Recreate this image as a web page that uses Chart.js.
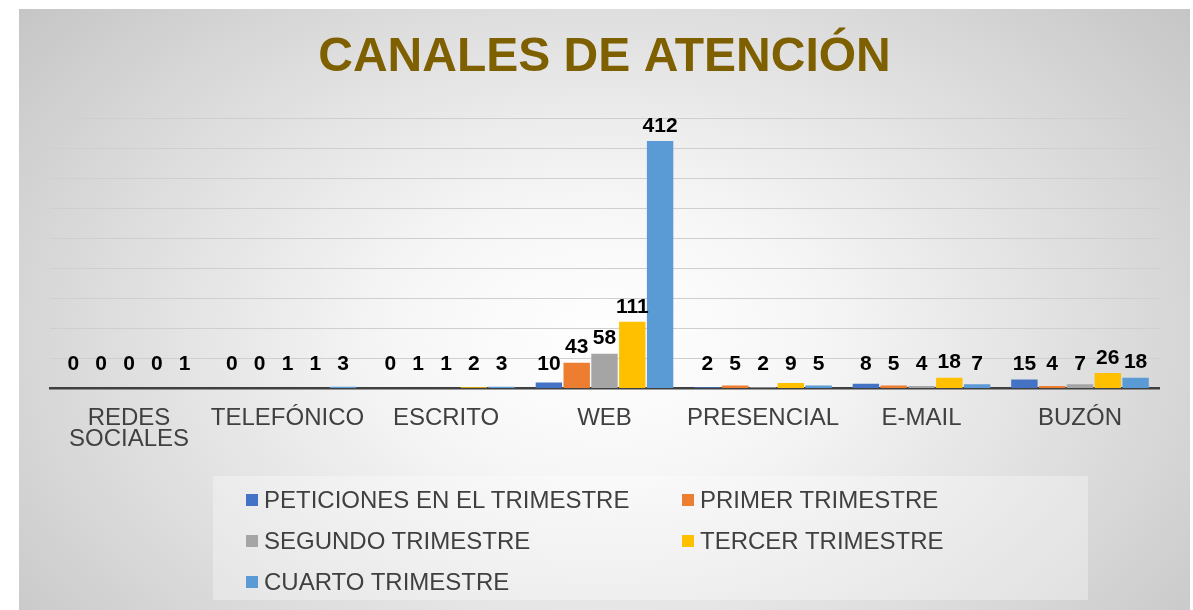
<!DOCTYPE html>
<html lang="es">
<head>
  <meta charset="UTF-8">
  <title>Canales de atención</title>
  <style>
    * { margin: 0; padding: 0; box-sizing: border-box; }
    body {
      width: 1193px;
      height: 610px;
      background: #ffffff;
      overflow: hidden;
      font-family: 'Liberation Sans', Arial, sans-serif;
    }
    .frame {
      position: absolute;
      left: 19px;
      top: 9px;
      width: 1171px;
      height: 601px;
      background: radial-gradient(ellipse 72% 95% at 50% 55%, #ffffff 0%, #f6f6f6 25%, #d9d9d9 65%, #bebebe 100%);
    }
    .frame canvas { position: absolute; left: 0; top: 0; }
    .legend {
      position: absolute;
      left: 194px;
      top: 467px;
      width: 875px;
      height: 124px;
      background: rgba(255, 255, 255, 0.32);
      padding: 3px 0 0 33px;
      display: grid;
      grid-template-columns: 436px 400px;
      grid-auto-rows: 41px;
      align-items: center;
    }
    .legend span.item {
      display: flex;
      align-items: center;
      font-size: 24px;
      color: #404040;
      white-space: nowrap;
    }
    .legend i {
      display: inline-block;
      width: 12px;
      height: 12px;
      margin-right: 6px;
    }
  </style>
</head>
<body>
<div class="frame">
  <canvas id="chart"></canvas>
  <div class="legend" id="legend"></div>
</div>

<script src="https://cdn.jsdelivr.net/npm/chart.js"></script>
<script>
  // categorias y valores
  const canales = [['REDES', 'SOCIALES'], 'TELEFÓNICO', 'ESCRITO', 'WEB', 'PRESENCIAL', 'E-MAIL', 'BUZÓN'];
  const peticiones = [0, 0, 0, 10, 2, 8, 15];
  const primer = [0, 0, 1, 43, 5, 5, 4];
  const segundo = [0, 1, 1, 58, 2, 4, 7];
  const tercer = [0, 1, 2, 111, 9, 18, 26];
  const cuarto = [1, 3, 3, 412, 5, 7, 18];
  const series = ['PETICIONES EN EL TRIMESTRE', 'PRIMER TRIMESTRE', 'SEGUNDO TRIMESTRE', 'TERCER TRIMESTRE', 'CUARTO TRIMESTRE'];
  const colores = ['#4472C4', '#ED7D31', '#A5A5A5', '#FFC000', '#5B9BD5'];
  const valores = [peticiones, primer, segundo, tercer, cuarto];

  // etiquetas de datos encima de cada barra
  const etiquetas = {
    id: 'etiquetas',
    afterDatasetsDraw(chart) {
      const ctx = chart.ctx;
      const base = chart.scales.y.getPixelForValue(0);
      ctx.save();
      ctx.font = 'bold 21px "Liberation Sans", Arial, sans-serif';
      ctx.fillStyle = '#000000';
      ctx.textAlign = 'center';
      ctx.textBaseline = 'middle';
      chart.data.datasets.forEach((ds, i) => {
        chart.getDatasetMeta(i).data.forEach((bar, j) => {
          const y = Math.min(base - 24, bar.y - 15);
          ctx.fillText(String(ds.data[j]), bar.x, y);
        });
      });
      ctx.restore();
    }
  };

  new Chart(document.getElementById('chart'), {
    type: 'bar',
    data: {
      labels: canales,
      datasets: series.map((s, i) => ({
        label: s,
        data: valores[i],
        backgroundColor: colores[i],
        borderWidth: 0,
        categoryPercentage: 0.877,
        barPercentage: 0.95
      }))
    },
    options: {
      responsive: true,
      maintainAspectRatio: false,
      animation: false,
      layout: { padding: { left: 30.75, right: 30.75, top: 0, bottom: 121.5 } },
      plugins: {
        legend: { display: false },
        tooltip: { enabled: false },
        title: {
          display: true,
          text: 'CANALES DE ATENCIÓN',
          color: '#7F6000',
          font: { family: '"Liberation Sans", Arial, sans-serif', size: 48, weight: 'bold' },
          padding: { top: 20, bottom: 31.5 }
        }
      },
      scales: {
        x: {
          grid: { display: false, drawTicks: false },
          border: { display: true, color: '#404040', width: 2.5 },
          ticks: {
            color: '#404040',
            padding: 20,
            maxRotation: 0,
            minRotation: 0,
            autoSkip: false,
            font: { family: '"Liberation Sans", Arial, sans-serif', size: 24, lineHeight: 0.85 }
          },
          afterFit(axis) { axis.height = 100; }
        },
        y: {
          min: 0,
          max: 450,
          ticks: { display: false, stepSize: 50 },
          grid: { color: '#cfcfcf', lineWidth: 1, drawTicks: false },
          border: { display: false },
          afterFit(axis) { axis.width = 0; }
        }
      }
    },
    plugins: [etiquetas]
  });

  // leyenda en dos columnas como en el original
  const leyenda = document.getElementById('legend');
  series.forEach((s, i) => {
    const item = document.createElement('span');
    item.className = 'item';
    item.innerHTML = '<i style="background:' + colores[i] + '"></i>' + s;
    leyenda.appendChild(item);
  });
</script>
</body>
</html>
